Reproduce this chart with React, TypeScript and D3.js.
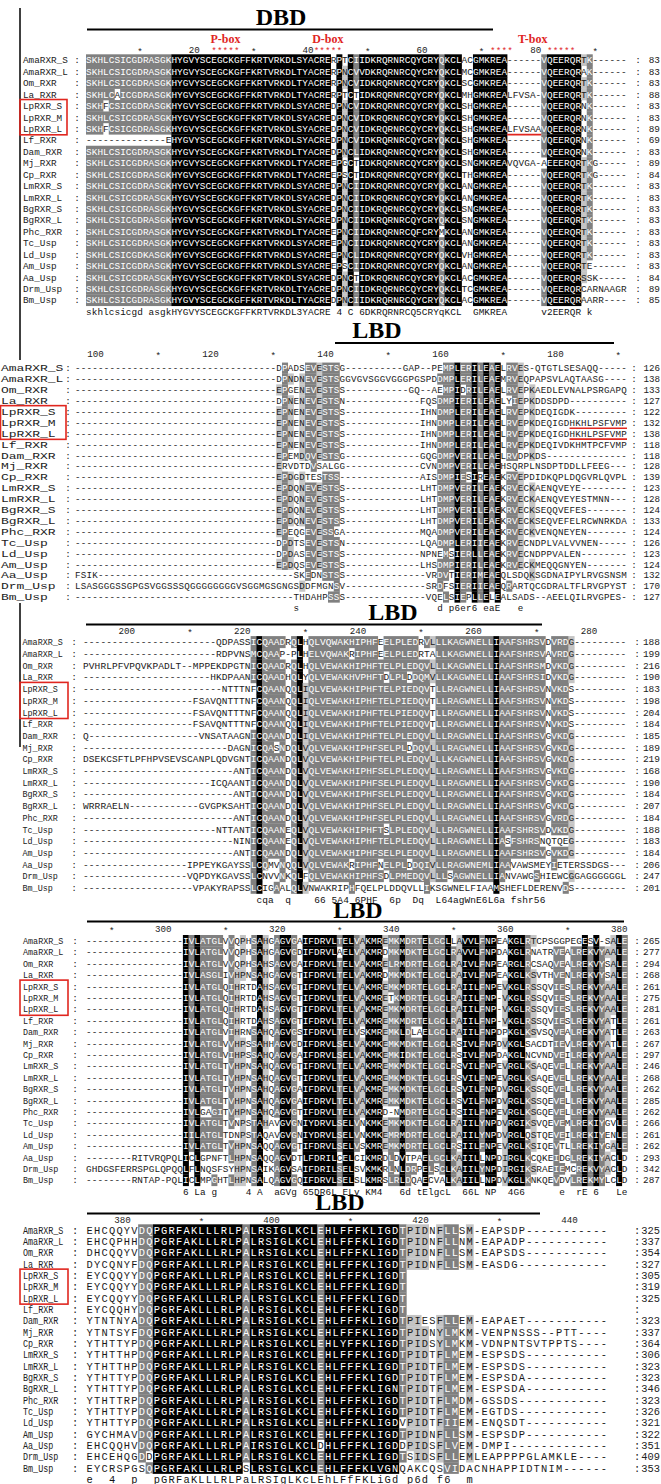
import React, { useMemo } from "react";
import * as d3 from "d3";

// ---------------- DATA ----------------
const NAMES = [
  "AmaRXR_S", "AmaRXR_L", "Om_RXR", "La_RXR", "LpRXR_S", "LpRXR_M", "LpRXR_L", "Lf_RXR",
  "Dam_RXR", "Mj_RXR", "Cp_RXR", "LmRXR_S", "LmRXR_L", "BgRXR_S", "BgRXR_L", "Phc_RXR",
  "Tc_Usp", "Ld_Usp", "Am_Usp", "Aa_Usp", "Drm_Usp", "Bm_Usp",
];

const D = (n: number) => "-".repeat(n);
const S = (n: number) => " ".repeat(n);

// Block 1 (DBD)
const H1 = "SKHLCSICGDRASGK";
const C1 = "HYGVYSCEGCKGFFKRTVRKDL";
const Z1 = "DKRQRNRCQYCRYQKCL";
const G1 = "GMKREA";
const B1_SEQ = [
  H1 + C1 + "SYACRE" + "RPTCII" + Z1 + "AC" + G1 + "------VQEERQRTK------",
  H1 + C1 + "TYACRE" + "RPNCVV" + Z1 + "MC" + G1 + "------VQEERQRAK------",
  H1 + C1 + "TYACRE" + "RPNCVI" + Z1 + "SC" + G1 + "------VQEERQRTK------",
  "SKHLCAICGDRASGK" + C1 + "TYACRE" + "RPTCTI" + Z1 + "MH" + G1 + "LFVSA-VQEERQRTK------",
  "SKHFCSICGDRASGK" + C1 + "SYACRE" + "DPNCVI" + Z1 + "SH" + G1 + "------VQEERQRNK------",
  H1 + C1 + "SYACRE" + "DPNCVI" + Z1 + "SH" + G1 + "------VQEERQRNK------",
  "SKHFCSICGDRASGK" + C1 + "SYACRE" + "DPNCVI" + Z1 + "SH" + G1 + "LFVSAAVQEERQRNK------",
  "--------------E" + C1 + "SYACRE" + "DPNCVI" + Z1 + "SH" + G1 + "------VQEERQRNK------",
  H1 + C1 + "TYACRE" + "DPNCLI" + Z1 + "SH" + G1 + "------VQEERQRNK------",
  H1 + C1 + "TYACRE" + "EPGCTI" + Z1 + "SN" + G1 + "VQVGA-AEEERQRTKG-----",
  H1 + C1 + "TYACRE" + "EPSCTI" + Z1 + "TH" + G1 + "------VQEERQRTKG-----",
  H1 + C1 + "SYACRE" + "DPNCII" + Z1 + "AN" + G1 + "------VQEERQRTK------",
  H1 + C1 + "SYACRE" + "DPNCII" + Z1 + "AN" + G1 + "------VQEERQRTK------",
  H1 + C1 + "SYACRE" + "DPNCII" + Z1 + "SN" + G1 + "------VQEERQRTK------",
  H1 + C1 + "SYACRE" + "DPNCII" + Z1 + "SN" + G1 + "------VQEERQRTK------",
  H1 + C1 + "TYACRE" + "EPNCII" + "DKRQRNRCQFCRYMKCL" + "AN" + G1 + "------VQEERQRTK------",
  H1 + C1 + "SYACRE" + "EPNCII" + Z1 + "AN" + G1 + "------VQEERQRTK------",
  "SKHLCSICGDKASGK" + C1 + "SYACRE" + "EPNCLI" + Z1 + "VH" + G1 + "------VQEERQRTK------",
  H1 + C1 + "SYACRE" + "EPSCII" + Z1 + "AN" + G1 + "------VQEERQRTE------",
  H1 + C1 + "SYACRE" + "DPNCTI" + Z1 + "AC" + G1 + "------VQEERQRSSK-----",
  H1 + C1 + "TYACRE" + "DPNCII" + Z1 + "TC" + G1 + "------VQEERQRCARNAAGR",
  H1 + C1 + "TYACRE" + "DPNCII" + Z1 + "AC" + G1 + "------VQEERQRAARR----",
];
const B1_NUM = [83, 83, 83, 88, 83, 83, 89, 69, 83, 89, 84, 83, 83, 83, 83, 83, 83, 83, 83, 84, 89, 85];
const B1_CONS = "skhlcsicgd asgkHYGVYSCEGCKGFFKRTVRKDL3YACRE 4 C 6DKRQRNRCQ5CRYqKCL  GMKREA      v2EERQR k";

// Block 2 (LBD, part 1)
const B2_SEQ = [
  D(35) + "DPADSEVESTSG" + D(10) + "GAP--PEMPLERILEAELRVES-QTGTLSESAQQ" + D(5),
  D(35) + "DPNDNEVESTSGGVGVSGGVGGGPGSPDDMPLERILEAEMRVEQPAPSVLAQTAASG" + D(4),
  D(35) + "EPGENEVESTSS" + D(11) + "GQ--AEMPIDRILEAELRVEPKAEDLEVNALPSRGAPQ",
  D(35) + "DPNENEVESTSN" + D(13) + "FQSDMPIERILEAELYIEPKDDSDPD" + D(10),
  D(35) + "EPNENEVESTSS" + D(13) + "IHNDMPLERILEAELRVEPKDEQIGDK" + D(9),
  D(35) + "EPNENEVESTSS" + D(13) + "IHNDMPLERILEAELRVEPKDEQIGDHKHLPSFVMP",
  D(35) + "EPNENEVESTSS" + D(13) + "IHNDMPLERILEAELRVEPKDEQIGDHKHLPSFVMP",
  D(35) + "EPNENEVESTSS" + D(13) + "IHNDMPLERILEAELRVEPKDEQIVDKHMTPCFVMP",
  D(35) + "EPEMDQVESTSG" + D(13) + "GQGDMPVERILEAELRVDPKDS" + D(14),
  D(35) + "ERVDTDVSALGG" + D(13) + "CVNDMPVERILEAEHSQRPLNSDPTDDLLFEEG" + D(3),
  D(35) + "EPDGDTESTSS-" + D(13) + "AISDMPIESIREAEKRVEPDIDKQPLDQGVRLQVPL",
  D(35) + "EPDQNEVESTSS" + D(13) + "LHTDMPVERILEAEKRVECKAENQVEYE" + D(8),
  D(35) + "EPDQNEVESTSS" + D(13) + "LHTDMPVERILEAEKRVECKAENQVEYESTMNN" + D(3),
  D(35) + "EPDQNEVESTSS" + D(13) + "LHTDMPVERILEAEKRVECKSEQQVEFES" + D(7),
  D(35) + "EPDQNEVESTSS" + D(13) + "LHTDMPVERILEAEKRVECKSEQVEFELRCWNRKDA",
  D(35) + "EPEQGEVESSGA" + D(13) + "MQADMPVERILEAEKRVECKVENQNEYEN" + D(7),
  D(35) + "DPDTSEVESTSN" + D(13) + "LQADMPLERIIEAEKRVECNDPLVALVVNEN" + D(5),
  D(35) + "DPDASEVESTSS" + D(13) + "NPNEMSIERLLEAEKRVECNDPPVALEN" + D(8),
  D(35) + "EPDQSEVESTSS" + D(13) + "LHSDMPIERILEAEKRVECKMEQQGNYEN" + D(7),
  "FSIK" + D(31) + "---SKEDNSTSS" + D(14) + "VRDVTIERIMEAEQLSDQKSGDNAIPYLRVGSNSM",
  "LSASGGGSSGPGSVGGSSSQGGGGGGGGVSGGMGSGNGSDDFMGNSV" + D(14) + "SRDFSIERIIEAEQRARTQCGDRALTFLRVGPYST",
  D(38) + "THDAHPSSS" + D(14) + "VQELSIEPLLELEALSADS--AEELQILRVGPES" + D(1),
];
const B2_NUM = [126, 138, 133, 127, 122, 132, 138, 118, 118, 128, 139, 123, 128, 124, 133, 124, 126, 123, 124, 132, 170, 127];
const B2_CONS = S(38) + "s" + S(24) + "d p6er6 eaE   e";

// Block 3 (LBD, part 2)
const LP3 = "CQAANQQLIQLVEWAKHIPHFTELPIEDQVTLLRAGWNELLIAAFSHRSVNVKDS";
const LM3 = "CQAANDQLVQLVEWAKHIPHFSELPLEDQVLLLRAGWNELLIAAFSHRSVGVKDG";
const B3_SEQ = [
  D(23) + "QDPASSI" + "CQAADRQLHQLVQWAKHIPHFEELPLEDRVLLLKAGWNELLIAAFSHRSVDVRDG" + D(9),
  D(23) + "RDPVNSM" + "CQAAP-PLHELVQWAKRIPHFEELPLEDRTALLKAGWNELLIAAFSHRSVAVRDG" + D(9),
  "PVHRLPFVPQVKPADLT--MPPEKDPGTNI" + "CQAADRQLHQLVEWAKHIPHFTELPLEDQVLLLKAGWNELLIAAFSHRSMDVKDG" + D(9),
  D(22) + "HKDPAANI" + "CQAADHQLYQLVEWAKHVPHFTDLPLDDQMVLLKAGWNELLIAAFSHRSIDVKDG" + D(9),
  D(24) + "NTTTNF" + LP3 + D(9),
  D(19) + "FSAVQNTTTNF" + LP3 + D(9),
  D(19) + "FSAVQNTTTNF" + LP3 + D(9),
  D(19) + "FSAVQNTTTNF" + LP3 + D(9),
  "Q" + D(19) + "VNSATAAGNI" + "CQAANDQLIQLVEWAKHIPHFTELPLEDQVLLLRAGWNELLIAAFSHRSVGVKDG" + D(9),
  D(25) + "DAGNI" + "CQASNDQLVQLVEWAKHIPHFSELPLDDQVLLLRAGWNELLIAAFSHRSVGVKDG" + D(9),
  "DSEKCSFTLPFHPVSEVSCANPLQDVGNTI" + "CQAANDQLVQLVEWAKHIPHFTELPLEDQVLLLKAGWNELLIAAFSHRSVGVKDG" + D(9),
  D(26) + "ANTI" + LM3 + D(9),
  D(22) + "ICQAANTI" + LM3 + D(9),
  D(26) + "ANTI" + LM3 + D(9),
  "WRRRAELN" + D(12) + "GVGPKSAHTI" + LM3 + D(9),
  D(26) + "ANTI" + "CQAANDQLVQLVEWAKHIPHFSELPLEDQVLLLRAGWNELLIAAFSHRSVGVRDG" + D(9),
  D(23) + "NTTANTI" + "CQAANEQLVQLVEWAKHIPHFTSLPLEDQVLLLRAGWNELLIAAFSHRSVDVKDG" + D(9),
  D(26) + "NINI" + "CQAANEQLVQLVEWAKHIPHFTELPLEDQVLLLRAGWNELLIASFSHRSNQTQEG" + D(9),
  D(26) + "ANTI" + "CQAANDQLVQLVEWAKHIPHFSELPLEDQVLLLRAGWNELLIAAFSHRSVGVKDG" + D(9),
  D(18) + "IPPEYKGAYSSL" + "CQMVNQQLVQLVEWAKRIPHFNELPLDDQIVLLRAGWNEMLIAAVAWSMEYIETERSSDGS" + D(3),
  D(18) + "VQPDYKGAVSSL" + "CNVVNKQLFQLVEWAKHIPHFSDLPMEDQVLLLSAGWNELLIANVAWGSHIEWCGGAGGGGGGL",
  D(19) + "VPAKYRAPSSL" + "CIGAALQLVNWAKRIPHFQELPLDDQVLLIKSGWNELFIAAMSHEFLDERENVDS" + D(9),
];
const B3_NUM = [188, 199, 216, 190, 183, 198, 204, 184, 185, 189, 219, 168, 190, 184, 207, 184, 188, 183, 184, 206, 247, 201];
const B3_CONS = S(30) + "cqa  q    66 5A4 6PHF  6p  Dq  L64agWnE6L6a fshr56";

// Block 4 (LBD, part 3)
const B4_SEQ = [
  D(17) + "IVLATGLVVQPHSAHGAGVGAIFDRVLTELVAKMREMKMDRTELGCLLAVVLFNPEAKGLRTCPSGGPEGESV-SALE",
  D(17) + "IVLATGLVVQPHSAHGAGVGDIFDRVLAELVAKMRDMKMDKTELGCLRAVVLFNPDAKGLRNATRVEALREKVYAALE",
  D(17) + "IVLATGLVVQPHSAHSAGVGAIFDRVLTELVAKMRELRMDRTELGCLRAIVLFNPEARGLRCSAQVEALREKVYSALE",
  D(17) + "IVLASGLIVHPNSAHGAGVGTIFDRVLTELVAKMRDMKMDKTELGCLRAIVLFNPEAKGLKSVTHVENLREKVYSALE",
  D(17) + "IVLATGLQIHRTDAHSAGVGTIFDRVLTELVAKMREMKMDRTELGCLRAIILFNPEVKGLRSSQVIESLREKVYAALE",
  D(17) + "IVLATGLQIHRTDAHSAGVGTIFDRVLTELVAKMRETKMDRTELGCLRAIILFNP-VKGLRSSQVIESLREKVYAALE",
  D(17) + "IVLATGLQIHRTDAHSAGVGTIFDRVLTELVAKMREMKMDRTELGCLRAIILFNP-VKGLRSSQVIESLREKVYAALE",
  D(17) + "IVLATGLQIHRTDAHSAGVGTIFDRVLTELVAKMREMKMDRTELGCLRAIILFNP-VKGLRSSQVIESLREKVYATLE",
  D(17) + "IVLATGLVIHRNSAHQAGVGSIFDRVLTELVSKMREMKLDLAELGCLRAIILFNPDPKGLKSVSQVEALREKVYATLE",
  D(17) + "IVLATGLVVHPSSAHHAGVGDIFDRVLSELVAKMKEMKMDKTELGCLRSIVLFNPDVKGLSACDTIEVLREKVYATLE",
  D(17) + "IVLATGLVIHPSSAHQAGVGAIFDRVLSELVAKMKEMKIDKTELGCLRSIVLFNPDAKGLNCVNDVEILREKVYAALE",
  D(17) + "IVLATGLTVHPNSAHQAGVGTIFDRVLTELVAKMREMKMDKTELGCLRSVILFNPEVRGLKSAQEVELLREKVYAALE",
  D(17) + "IVLATGLTVHPNSAHQAGVGTIFDRVLTELVAKMREMKMDKTELGCLRSVILFNPEVRGLKSAQEVELLREKVYAALE",
  D(17) + "IVLATGLTVHPNSAHQAGVGAIFDRVLTELVAKMREMKMDKTELGCLRSVILFNPDVRGLKSSQEVELLREKVYAALE",
  D(17) + "IVLATGLTVHPNSAHQAGVGAIFDRVLTELVAKMREMKMDKTELGCLRSVILFNPDVRGLKSSQEVELLREKVYAALE",
  D(17) + "IVLGAGITVHPNSAHQAGVGTIFDRVLTELVAKMRD-NMDRTELGCLRSIILFNPEVRGLKSGQEVELLREKVYAALE",
  D(17) + "IVLATGLTVNPSTAHAVGVGNIYDRVLSELVNKMKEMKMDKTELGCLRAIILYNPDVRGIKSVQEVEMLREKIYGVLE",
  D(17) + "IILATGLTDNPSTAQAVGVGNIYDRVLSELVNKMKEMRMDRTELGCLRAIILYNPDVRGLQSTQEVEILREKIYENLE",
  D(17) + "IVLATGLTVHPNSAQQAGVGTIFDRVLSELVSKMREMKMDRTELGCLRSIILFNPEVRGLKSIQEVTLLREKIYGALE",
  D(8) + "RITVRQPQL" + "ICLGPNFTLHPNSAQQAGVDTLFDRILCELCIKMRDLDVTPAELGCLKAIILLNPDIRGLKCQKEIDGLREKIYACLD",
  "GHDGSFERRSPGLQPQQ" + "LFLNQSFSYHPNSAIKAGVSAIFDRILSELSVKMKRLNLDRPELSCLKAIILYNPDIRGIKSRAEIEMCREKVYACLD",
  D(8) + "RNTAP-PQL" + "ICLMPGHTLHPNSALQAGVGQIFDRVLSELSLKMRSLRLDQAECVALKAIILLNPDVKGLKNKQEVDVLREKMYLCLD",
];
const B4_NUM = [265, 277, 294, 268, 261, 275, 281, 261, 263, 267, 297, 246, 268, 262, 285, 262, 266, 261, 262, 293, 342, 287];
const B4_CONS = S(17) + "6 La g     4 A  aGVg 65DR6L ELv KM4   6d tElgcL  66L NP  4G6      e  rE 6   Le";

// Block 5 (LBD, part 4)
const B5_SEQ = [
  "EHCQQYVDQPGRFAKLLLRLPALRSIGLKCLEHLFFFKLIGDTPIDNFLLSM" + "-EAPSDP" + D(11),
  "EHCQPHHDQPGRFAKLLLRLPALRSIGLKCLEHLFFFKLIGDTPIDNFLLNM" + "-EAPADP" + D(11),
  "DHCQQYVDQPGRFAKLLLRLPALRSIGLKCLEHLFFFKLIGDTPIDNFLLSM" + "-EAPSDS" + D(11),
  "DYCQNYFDQPGRFAKLLLRLPALRSIGLKCLEHLFFFKLIGDTPIDNFLLSM" + "-EASDG-" + D(11),
  "EYCQQYYDQPGRFAKLLLRLPALRSIGLKCLEHLFFFKLIGDT" + S(27),
  "EYCQQYYDQPGRFAKLLLRLPALRSIGLKCLEHLFFFKLIGDT" + S(27),
  "EYCQQYYDQPGRFAKLLLRLPALRSIGLKCLEHLFFFKLIGDT" + S(27),
  "EYCQQHYDQPGRFAKLLLRLPALRSIGLKCLEHLFFFKLIGDT" + S(27),
  "YTNTNYADQPGRFAKLLLRLPALRSIGLKCLEHLFFFKLIGDTPIESFLLEM" + "-EAPAET" + D(11),
  "YTNTSYFDQPGRFAKLLLRLPALRSIGLKCLEHLFFFKLIGDTPIDNYLMKM" + "-VENPNSSS--PTT" + D(4),
  "YTHTTYPDQPGRFAKLLLRLPALRSIGLKCLEHLYFFKLIGDTPIDSYLMKM" + "-VDNPNTSVTPPTS" + D(4),
  "YTHTTHPDQPGRFAKLLLRLPALRSIGLKCLEHLFFFKLIGDTPIDTFLMEM" + "-ESPSDS" + D(11),
  "YTHTTHPDQPGRFAKLLLRLPALRSIGLKCLEHLFFFKLIGDTPIDTFLMEM" + "-ESPSDS" + D(11),
  "YTHTTYPDQPGRFAKLLLRLPALRSIGLKCLEHLFFFKLIGDTPIDTFLMEM" + "-ESPSDA" + D(11),
  "YTHTTYPDQPGRFAKLLLRLPALRSIGLKCLEHLFFFKLIGNTPIDTFLMEM" + "-ESPSDA" + D(11),
  "YTHTTRPDQPGRFAKLLLRLPALRSIGLKCLEHLFFFKLIGDTPIDTFLMDM" + "-GSSDS-" + D(11),
  "YTHTTYPDQPGRFAKLLLRLPALRSIGLKCLEHLFFFKLIGDTPIDTFLMEM" + "-EGTDS-" + D(11),
  "YTHTTYPDQPGRFAKLLLRLPALRSIGLKCLEHLFFFKLIGDVPIDTFIIEM" + "-ENQSDT" + D(11),
  "GYCHMAVDQPGRFAKLLLRLPALRSIGLKCLEHLFFFKLIGDTPIDNFLLSM" + "-ESPSDP" + D(11),
  "EHCQQHVDQPGRFAKLLLRLPAIRSIGLKCLDHLFFFKLIGDDPIDSFLVEM" + "-DMPI--" + D(11),
  "EHCEHQGDDPGRFAKLLLRLPALRSIGLKCLEHLFFFKLIGDTSIDSFLLEM" + "LEAPPPPGLAMKLE" + D(4),
  "EYCRSPGSQPGRFAKLLLRLPSLRSIGLKCLEHLFFFKLVGNQAKCQSVIDA" + "CNHAPPIDTNIM-" + D(5),
];
const B5_NUM: (number | null)[] = [325, 337, 354, 327, 305, 319, 325, null, 323, 337, 364, 306, 323, 323, 346, 323, 326, 321, 322, 351, 409, 353];
const B5_CONS = "e  4  p  pGRFaKLLLRLPaLRSIgLKcLEhLFfFKLiGd p6d f6  m";

// Annotations (block 1): column numbers of red stars
const PBOX_COLS = [23, 24, 25, 26, 27];
const DBOX_COLS = [41, 42, 43, 44, 45];
const TBOX_COLS = [72, 73, 74, 75, 82, 83, 84, 85, 86];
const BOX_LABELS = [
  { text: "P-box", cols: PBOX_COLS },
  { text: "D-box", cols: DBOX_COLS },
  { text: "T-box", cols: TBOX_COLS },
];
// red underlines: block index, row, first/last column index within the block
const UNDERLINES = [
  { block: 0, row: 6, from: 74, to: 79 },
  { block: 1, row: 5, from: 86, to: 95 },
  { block: 1, row: 6, from: 86, to: 95 },
];

const GROUPS = ["DN", "EQ", "ST", "KR", "FYW", "LIVM"];

// ---------------- LAYOUT ----------------
const MONO = "'Liberation Mono','DejaVu Sans Mono',monospace";
const SERIF = "'Liberation Serif','DejaVu Serif',serif";

type Block = {
  seqs: string[]; nums: (number | null)[]; cons: string; start: number; ncols: number;
  x0: number; x1: number; rowTop: number; rowH: number; fs: number;
  labelX: number; labelCW: number; colonL: number; colonR: number;
  title: string; titleX: number; titleY: number; lineY: number; lineX0: number; lineX1: number;
  rulerY: number; boxX0: number; boxX1: number;
};

const BLOCKS: Block[] = [
  { seqs: B1_SEQ, nums: B1_NUM, cons: B1_CONS, start: 1, ncols: 95, x0: 86, x1: 626.6, rowTop: 54.3, rowH: 11.43, fs: 9.4,
    labelX: 23, labelCW: 5.6, colonL: 77, colonR: 638, title: "DBD", titleX: 281, titleY: 25, lineY: 29.5, lineX0: 87, lineX1: 493,
    rulerY: 53, boxX0: 20, boxX1: 67 },
  { seqs: B2_SEQ, nums: B2_NUM, cons: B2_CONS, start: 96, ncols: 96, x0: 75, x1: 627, rowTop: 362.55, rowH: 10.9, fs: 9.2,
    labelX: 1, labelCW: 7.8, colonL: 68, colonR: 634, title: "LBD", titleX: 377, titleY: 338, lineY: 343, lineX0: 335, lineX1: 614,
    rulerY: 357, boxX0: 0.5, boxX1: 66 },
  { seqs: B3_SEQ, nums: B3_NUM, cons: B3_CONS, start: 192, ncols: 94, x0: 83, x1: 626.3, rowTop: 636.1, rowH: 11.7, fs: 9.5,
    labelX: 22.5, labelCW: 5.05, colonL: 74, colonR: 637, title: "LBD", titleX: 393, titleY: 620, lineY: 624.5, lineX0: 86, lineX1: 542,
    rulerY: 634, boxX0: 20, boxX1: 68 },
  { seqs: B4_SEQ, nums: B4_NUM, cons: B4_CONS, start: 286, ncols: 95, x0: 86, x1: 627.5, rowTop: 935, rowH: 11.4, fs: 9.4,
    labelX: 23, labelCW: 5.05, colonL: 75, colonR: 637, title: "LBD", titleX: 358, titleY: 918, lineY: 921.5, lineX0: 87, lineX1: 624,
    rulerY: 932, boxX0: 20, boxX1: 68 },
  { seqs: B5_SEQ, nums: B5_NUM, cons: B5_CONS, start: 375, ncols: 70, x0: 86, x1: 607.5, rowTop: 1224.3, rowH: 11.33, fs: 10.4,
    labelX: 23, labelCW: 5.05, colonL: 75, colonR: 637, title: "LBD", titleX: 340, titleY: 1209.5, lineY: 1213.5, lineX0: 87, lineX1: 540,
    rulerY: 1222.5, boxX0: 20, boxX1: 68 },
];

const BG = ["none", "#c4c4c4", "#808080", "#000000"];
const DARK_TXT = "#1a1a1a";
const LIGHT_TXT = "#ffffff";
const RED = "#e0261f";

function norm(s: string, n: number) {
  const padCh = s.length && s[s.length - 1] === " " ? " " : "-";
  return (s + padCh.repeat(Math.max(0, n - s.length))).slice(0, n);
}

function shade(seqs: string[], n: number): number[][] {
  const lv = seqs.map(() => new Array(n).fill(0));
  const total = seqs.length;
  for (let c = 0; c < n; c++) {
    const col = seqs.map((s) => s[c]);
    const res = col.filter((ch) => ch && ch !== "-" && ch !== " ");
    if (!res.length) continue;
    const counts = d3.rollup(res, (v) => v.length, (d) => d);
    let best: string[] = [];
    let bc = 0;
    counts.forEach((v, k) => { if (v > bc) { bc = v; best = [k]; } });
    GROUPS.forEach((g) => {
      const gc = res.filter((ch) => g.includes(ch)).length;
      if (gc > bc) { bc = gc; best = g.split(""); }
    });
    const f = bc / total;
    const L = f >= 0.999 ? 3 : f >= 0.8 ? 2 : f >= 0.6 ? 1 : 0;
    if (L) col.forEach((ch, r) => { if (best.includes(ch)) lv[r][c] = L; });
  }
  return lv;
}

// split sorted column numbers into contiguous runs
function runsOf(cols: number[]): number[][] {
  const out: number[][] = [];
  cols.forEach((c) => {
    const last = out[out.length - 1];
    if (last && last[last.length - 1] === c - 1) last.push(c);
    else out.push([c]);
  });
  return out;
}

function BlockView({ b, bi }: { b: Block; bi: number }) {
  const seqs = useMemo(() => b.seqs.map((s) => norm(s, b.ncols)), [b]);
  const lv = useMemo(() => shade(seqs, b.ncols), [seqs, b.ncols]);
  const x = d3.scaleBand<number>().domain(d3.range(b.ncols)).range([b.x0, b.x1]).paddingInner(0).paddingOuter(0);
  const w = x.bandwidth();
  const y = d3.scaleBand<number>().domain(d3.range(seqs.length + 1)).range([b.rowTop, b.rowTop + (seqs.length + 1) * b.rowH]);
  const h = y.bandwidth();
  const base = (r: number) => (y(r) as number) + h / 2 + b.fs * 0.36;
  const cx = (i: number) => (x(i) as number) + w / 2;

  const rects: JSX.Element[] = [];
  const texts: JSX.Element[] = [];
  seqs.forEach((s, r) => {
    let c = 0;
    while (c < b.ncols) {
      const L = lv[r][c];
      let e = c;
      while (e + 1 < b.ncols && lv[r][e + 1] === L) e++;
      if (L > 0) {
        rects.push(
          <rect key={`r${r}-${c}`} x={x(c)} y={y(r)} width={(e - c + 1) * w + 0.3} height={h + 0.3} fill={BG[L]} />
        );
      }
      c = e + 1;
    }
    let i = 0;
    while (i < b.ncols) {
      if (s[i] === " ") { i++; continue; }
      const light = lv[r][i] >= 2;
      let e = i;
      while (e + 1 < b.ncols && s[e + 1] !== " " && (lv[r][e + 1] >= 2) === light) e++;
      const idx = d3.range(i, e + 1);
      texts.push(
        <text key={`t${r}-${i}`} x={idx.map((k) => cx(k).toFixed(2)).join(" ")} y={base(r)} textAnchor="middle" fill={light ? LIGHT_TXT : DARK_TXT}>
          {s.slice(i, e + 1)}
        </text>
      );
      i = e + 1;
    }
  });

  const cons: JSX.Element[] = [];
  {
    let i = 0;
    const cs = b.cons.slice(0, b.ncols);
    while (i < cs.length) {
      if (cs[i] === " ") { i++; continue; }
      let e = i;
      while (e + 1 < cs.length && cs[e + 1] !== " ") e++;
      const idx = d3.range(i, e + 1);
      cons.push(
        <text key={`c${i}`} x={idx.map((k) => cx(k).toFixed(2)).join(" ")} y={base(seqs.length)} textAnchor="middle" fill="#111">
          {cs.slice(i, e + 1)}
        </text>
      );
      i = e + 1;
    }
  }

  const ruler: JSX.Element[] = [];
  for (let i = 0; i < b.ncols; i++) {
    const cn = b.start + i;
    if (cn % 20 === 0) {
      ruler.push(
        <text key={`n${i}`} x={(x(i) as number) + w} y={b.rulerY} textAnchor="end" fontSize={9.2} fill="#222">{cn}</text>
      );
    } else if (cn % 10 === 0) {
      ruler.push(
        <text key={`s${i}`} x={cx(i)} y={b.rulerY + 2} textAnchor="middle" fontSize={9.2} fill="#222">*</text>
      );
    }
  }

  return (
    <g fontFamily={MONO} fontSize={b.fs}>
      <text x={b.titleX} y={b.titleY} textAnchor="middle" fontFamily={SERIF} fontWeight="bold" fontSize={24} fill="#000">{b.title}</text>
      <line x1={b.lineX0} x2={b.lineX1} y1={b.lineY} y2={b.lineY} stroke="#000" strokeWidth={2} />
      {ruler}
      {bi === 0 &&
        BOX_LABELS.map((bl) => {
          const xs = bl.cols.map((cn) => cx(cn - b.start));
          const mid = (d3.min(xs)! + d3.max(xs)!) / 2;
          return (
            <g key={bl.text}>
              <text x={mid} y={43} textAnchor="middle" fontFamily={SERIF} fontWeight="bold" fontSize={12} fill={RED}>{bl.text}</text>
              {runsOf(bl.cols).map((run) => (
                <text key={run[0]} x={run.map((cn) => cx(cn - b.start).toFixed(2)).join(" ")} y={53.5} textAnchor="middle" fontSize={8.5} fill={RED}>
                  {run.map(() => "*").join("")}
                </text>
              ))}
            </g>
          );
        })}
      {rects}
      {texts}
      {cons}
      {NAMES.map((nm, r) => (
        <g key={nm}>
          <text x={b.labelX} y={base(r)} textLength={nm.length * b.labelCW} lengthAdjust="spacingAndGlyphs" fill="#222">{nm}</text>
          <text x={b.colonL} y={base(r)} textAnchor="middle" fill="#222">:</text>
          <text x={b.colonR} y={base(r)} textAnchor="middle" fill="#222">:</text>
          {b.nums[r] != null && (
            <text x={660} y={base(r)} textAnchor="end" fill="#222">{b.nums[r]}</text>
          )}
        </g>
      ))}
      <rect x={b.boxX0} y={(y(4) as number) - 0.5} width={b.boxX1 - b.boxX0} height={3 * h + 1} fill="none" stroke={RED} strokeWidth={1.6} />
      {UNDERLINES.filter((u) => u.block === bi).map((u, k) => (
        <line key={k} x1={x(u.from)} x2={(x(u.to) as number) + w} y1={(y(u.row) as number) + h + 0.3} y2={(y(u.row) as number) + h + 0.3} stroke={RED} strokeWidth={1.6} />
      ))}
    </g>
  );
}

export default function App() {
  return (
    <svg width={661} height={1484} viewBox="0 0 661 1484" style={{ position: "absolute", left: 0, top: 0, background: "#fff" }}>
      <rect x={0} y={0} width={661} height={1484} fill="#fff" />
      <line x1={20} x2={20} y1={8} y2={360} stroke="#000" strokeWidth={1.5} />
      <line x1={20} x2={20} y1={603} y2={747} stroke="#000" strokeWidth={1.5} />
      {BLOCKS.map((b, i) => (
        <BlockView key={i} b={b} bi={i} />
      ))}
    </svg>
  );
}
